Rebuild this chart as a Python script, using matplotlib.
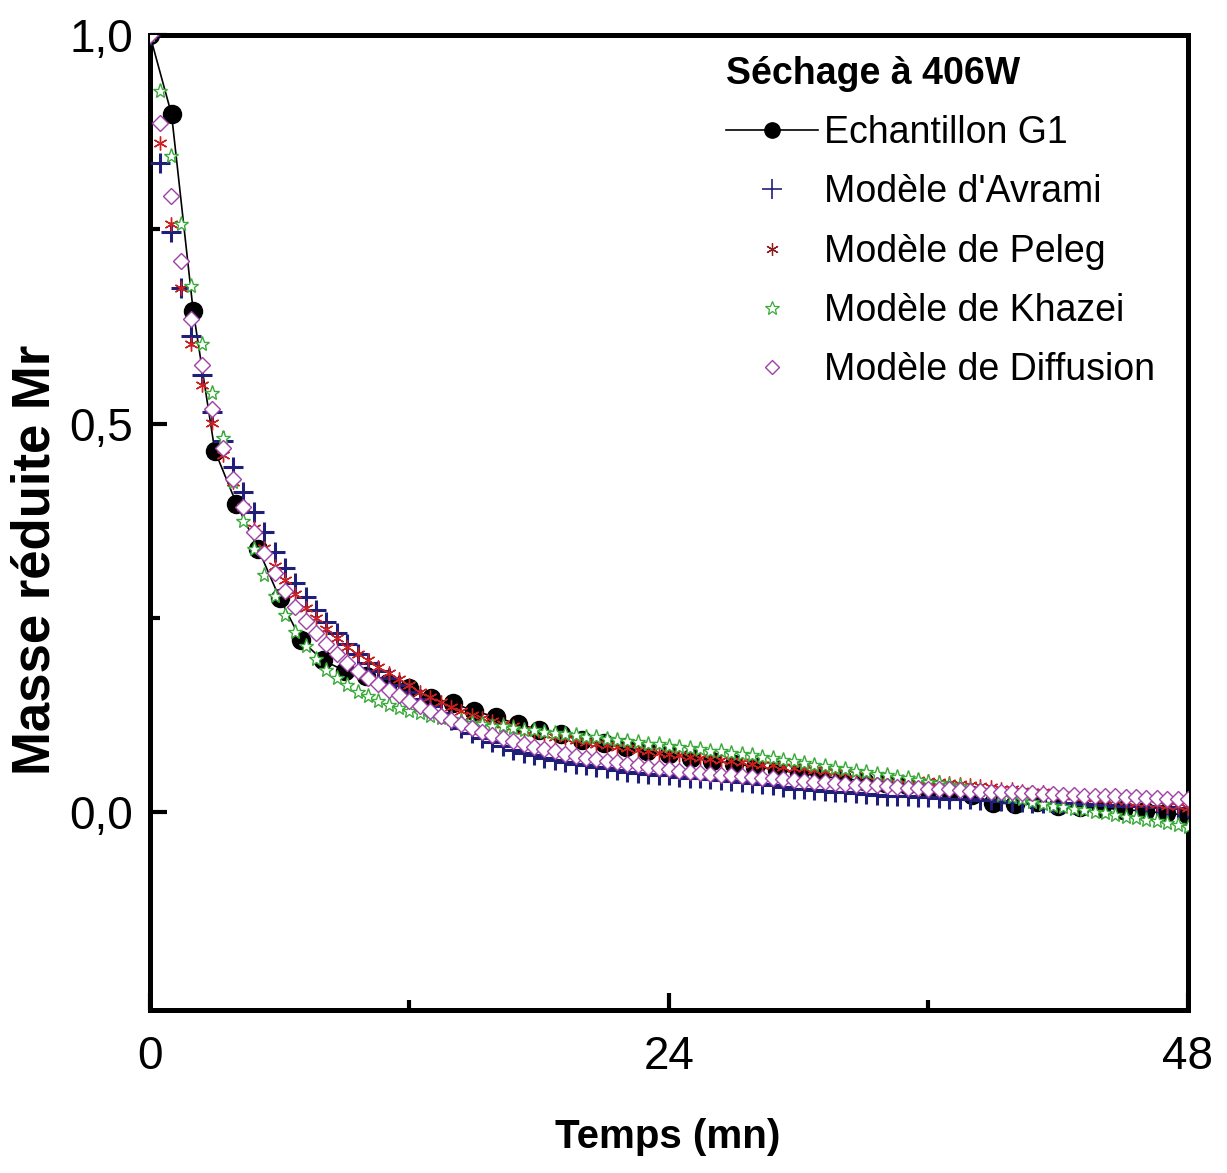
import matplotlib
matplotlib.use('Agg')
import matplotlib.pyplot as plt
from matplotlib.lines import Line2D
from matplotlib.ticker import FixedLocator
import numpy as np

# Echantillon G1 : mesures toutes les minutes
t_exp = np.arange(0, 49)
mr_exp = [1.000, 0.898, 0.645, 0.465, 0.397, 0.339, 0.275, 0.221, 0.195, 0.182,
          0.175, 0.166, 0.160, 0.147, 0.140, 0.130, 0.122, 0.113, 0.106, 0.100,
          0.093, 0.089, 0.083, 0.079, 0.074, 0.069, 0.066, 0.062, 0.058, 0.054,
          0.050, 0.046, 0.043, 0.040, 0.037, 0.034, 0.030, 0.027, 0.022, 0.012,
          0.010, 0.013, 0.008, 0.006, 0.005, 0.003, 0.001, -0.002, -0.004]

# modeles : 101 points entre 0 et 48 mn
t_mod = np.arange(101) * 0.48
mr_avrami = [1.000, 0.835, 0.746, 0.674, 0.613, 0.562, 0.515, 0.478, 0.444, 0.412,
             0.386, 0.360, 0.335, 0.314, 0.295, 0.277, 0.260, 0.244, 0.230, 0.216,
             0.203, 0.192, 0.182, 0.173, 0.163, 0.154, 0.145, 0.136, 0.127, 0.118,
             0.108, 0.101, 0.095, 0.090, 0.085, 0.080, 0.076, 0.073, 0.070, 0.067,
             0.064, 0.062, 0.060, 0.058, 0.056, 0.054, 0.052, 0.050, 0.049, 0.048,
             0.047, 0.045, 0.044, 0.043, 0.042, 0.041, 0.040, 0.039, 0.037, 0.036,
             0.034, 0.032, 0.030, 0.029, 0.028, 0.027, 0.026, 0.025, 0.024, 0.023,
             0.022, 0.021, 0.021, 0.020, 0.019, 0.019, 0.018, 0.017, 0.017, 0.016,
             0.015, 0.015, 0.014, 0.013, 0.013, 0.012, 0.012, 0.011, 0.011, 0.010,
             0.010, 0.009, 0.009, 0.008, 0.008, 0.007, 0.007, 0.006, 0.006, 0.005,
             0.005]
mr_peleg = [1.000, 0.861, 0.757, 0.674, 0.603, 0.549, 0.501, 0.459, 0.425, 0.393,
            0.365, 0.340, 0.317, 0.298, 0.281, 0.263, 0.249, 0.236, 0.224, 0.212,
            0.203, 0.195, 0.186, 0.179, 0.171, 0.164, 0.155, 0.148, 0.141, 0.135,
            0.130, 0.125, 0.121, 0.117, 0.113, 0.110, 0.106, 0.103, 0.100, 0.097,
            0.095, 0.092, 0.090, 0.088, 0.086, 0.084, 0.082, 0.080, 0.078, 0.076,
            0.075, 0.073, 0.071, 0.070, 0.068, 0.067, 0.065, 0.064, 0.062, 0.061,
            0.060, 0.058, 0.057, 0.056, 0.054, 0.053, 0.052, 0.050, 0.049, 0.048,
            0.046, 0.045, 0.044, 0.042, 0.041, 0.040, 0.038, 0.037, 0.036, 0.034,
            0.033, 0.032, 0.030, 0.029, 0.027, 0.026, 0.025, 0.023, 0.022, 0.021,
            0.019, 0.018, 0.017, 0.015, 0.014, 0.012, 0.011, 0.010, 0.008, 0.007,
            0.005]
mr_khazei = [1.000, 0.928, 0.844, 0.757, 0.677, 0.603, 0.539, 0.481, 0.425, 0.375,
             0.338, 0.305, 0.278, 0.253, 0.232, 0.214, 0.197, 0.183, 0.172, 0.163,
             0.155, 0.149, 0.143, 0.138, 0.134, 0.130, 0.127, 0.124, 0.121, 0.119,
             0.117, 0.115, 0.113, 0.111, 0.110, 0.108, 0.106, 0.105, 0.103, 0.102,
             0.100, 0.099, 0.097, 0.096, 0.094, 0.093, 0.091, 0.090, 0.088, 0.087,
             0.085, 0.084, 0.082, 0.081, 0.079, 0.078, 0.076, 0.075, 0.073, 0.071,
             0.069, 0.067, 0.065, 0.063, 0.061, 0.059, 0.057, 0.055, 0.053, 0.051,
             0.049, 0.047, 0.045, 0.043, 0.041, 0.039, 0.037, 0.035, 0.033, 0.030,
             0.028, 0.025, 0.022, 0.019, 0.016, 0.013, 0.010, 0.008, 0.006, 0.004,
             0.002, 0.000, -0.002, -0.004, -0.006, -0.008, -0.010, -0.012, -0.014, -0.017,
             -0.020]
mr_diffusion = [1.000, 0.887, 0.793, 0.709, 0.635, 0.575, 0.519, 0.469, 0.428, 0.393,
                0.361, 0.333, 0.307, 0.284, 0.264, 0.246, 0.230, 0.216, 0.203, 0.192,
                0.181, 0.173, 0.165, 0.157, 0.150, 0.143, 0.136, 0.130, 0.124, 0.118,
                0.113, 0.108, 0.103, 0.099, 0.095, 0.091, 0.087, 0.084, 0.081, 0.078,
                0.075, 0.072, 0.070, 0.068, 0.066, 0.064, 0.062, 0.060, 0.058, 0.056,
                0.055, 0.053, 0.052, 0.050, 0.049, 0.048, 0.047, 0.046, 0.045, 0.044,
                0.043, 0.042, 0.041, 0.040, 0.039, 0.038, 0.037, 0.036, 0.035, 0.034,
                0.034, 0.033, 0.032, 0.031, 0.031, 0.030, 0.029, 0.029, 0.028, 0.027,
                0.027, 0.026, 0.025, 0.025, 0.024, 0.024, 0.023, 0.023, 0.022, 0.022,
                0.021, 0.021, 0.020, 0.020, 0.019, 0.019, 0.018, 0.018, 0.017, 0.017,
                0.016]

x_ticks = [0, 24, 48]
x_labels = ['0', '24', '48']
y_ticks = [0.0, 0.5, 1.0]
y_labels = ['0,0', '0,5', '1,0']

FONT = ['Liberation Sans', 'DejaVu Sans']
plt.rcParams['font.family'] = FONT

c_avrami = '#1f1f7a'
c_peleg = '#cc2020'
c_khazei = '#3aaa3a'
c_diff = '#a040a8'

fig = plt.figure(figsize=(12.27, 11.73), dpi=100)
ax = fig.add_axes([0.1222, 0.139, 0.846, 0.831])

ax.plot(t_exp, mr_exp, '-', color='black', lw=1.2, marker='o', ms=13,
        mfc='black', mec='black', zorder=2)
ax.plot(t_mod, mr_avrami, ls='none', marker='+', ms=14, mew=2.2,
        color=c_avrami, zorder=3)
ax.plot(t_mod, mr_peleg, ls='none', marker=(6, 2, 0), ms=10, mew=1.0,
        color=c_peleg, zorder=4)
ax.plot(t_mod, mr_khazei, ls='none', marker='*', ms=11, mew=1.0,
        mfc='white', mec=c_khazei, zorder=5)
ax.plot(t_mod, mr_diffusion, ls='none', marker='D', ms=8, mew=1.0,
        mfc='white', mec=c_diff, zorder=6)

ax.set_xlim(0, 48)
ax.set_ylim(-0.255, 1.0)

ax.set_xticks(x_ticks)
ax.set_xticklabels(x_labels)
ax.set_yticks(y_ticks)
ax.set_yticklabels(y_labels)
ax.xaxis.set_minor_locator(FixedLocator([12, 36]))
ax.yaxis.set_minor_locator(FixedLocator([0.25, 0.75]))
ax.tick_params(which='major', direction='in', length=12, width=3,
               labelsize=33, top=False, right=False)
ax.tick_params(axis='x', which='major', pad=18)
ax.tick_params(axis='y', which='major', pad=12)
ax.tick_params(which='minor', direction='in', length=7, width=3,
               top=False, right=False)

for sp in ax.spines.values():
    sp.set_linewidth(3.6)

fig.text(668 / 1227, 1 - 1148 / 1173, 'Temps (mn)', fontsize=29,
         fontweight='bold', ha='center', va='baseline')
fig.text(36 / 1227, 1 - 560 / 1173, 'Masse réduite Mr', fontsize=38,
         fontweight='bold', rotation=90, ha='center', va='center')

handles = [
    Line2D([], [], color='black', lw=1.2, marker='o', ms=11, mfc='black'),
    Line2D([], [], ls='none', marker='+', ms=14, mew=1.2, color=c_avrami),
    Line2D([], [], ls='none', marker=(6, 2, 0), ms=9, mew=0.9, color='#8b1a1a'),
    Line2D([], [], ls='none', marker='*', ms=10, mew=0.9, mfc='white', mec=c_khazei),
    Line2D([], [], ls='none', marker='D', ms=7, mew=1.0, mfc='white', mec=c_diff),
]
labels = ['Echantillon G1', "Modèle d'Avrami", 'Modèle de Peleg',
          'Modèle de Khazei', 'Modèle de Diffusion']
leg = ax.legend(handles, labels, loc='upper left',
                bbox_to_anchor=(726 / 1227, 1 - 56 / 1173),
                bbox_transform=fig.transFigure,
                frameon=False, numpoints=1, handlelength=2.45, handletextpad=0.16,
                labelspacing=0.62, borderpad=0, borderaxespad=0,
                title='Séchage à 406W', alignment='left',
                prop={'size': 27})
leg.get_title().set_fontsize(27)
leg.get_title().set_fontweight('bold')

fig.savefig('out.png', dpi=100, facecolor='white')
